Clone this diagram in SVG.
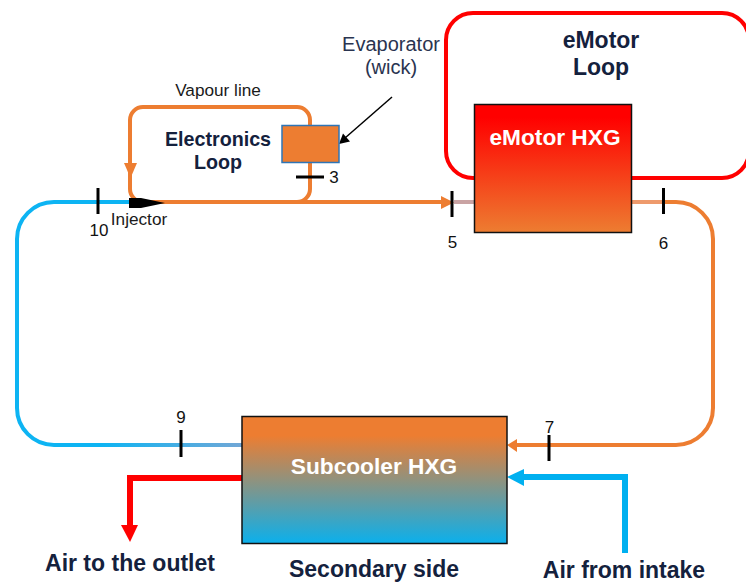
<svg xmlns="http://www.w3.org/2000/svg" width="746" height="583" viewBox="0 0 746 583">
<style>
text{font-family:"Liberation Sans",Arial,sans-serif}
.l{font-size:17.2px;fill:#1a1a1a}
.e{font-size:20px;fill:#2a3450}
.n{font-size:17px;fill:#111}
.b{font-size:23px;font-weight:bold;fill:#14213d}
.c{font-size:19.700px;font-weight:bold;fill:#14213d}
.w{font-size:22.700px;font-weight:bold;fill:#fff}
.t{stroke:#000;stroke-width:3;fill:none}
.p{fill:none;stroke-width:4}
.o{stroke:#ed7d31}
</style>
<defs>
<linearGradient id="gm" x1="0" y1="0" x2="0" y2="1"><stop offset="0.1" stop-color="#ff0000"/><stop offset="1" stop-color="#ed7d31"/></linearGradient>
<linearGradient id="gs" x1="0" y1="0" x2="0" y2="1"><stop offset="0.15" stop-color="#ed7d31"/><stop offset="1" stop-color="#0bb0ec"/></linearGradient>
<linearGradient id="gl" gradientUnits="userSpaceOnUse" x1="100" y1="0" x2="242" y2="0"><stop offset="0" stop-color="#0db4f3"/><stop offset="1" stop-color="#72a7d6"/></linearGradient>
</defs>
<g id="connectors">
<path class="p" d="M446 40a27 27 0 0 1 27-27H722a27 27 0 0 1 27 27V151a27 27 0 0 1-27 27H473a27 27 0 0 1-27-27Z" stroke="#ff0000"/>
<path class="p" stroke="#0db4f3" d="M130 202H54a37 37 0 0 0-37 37V408a37 37 0 0 0 37 37H100"/>
<path class="p" stroke="url(#gl)" d="M100 445H242"/>
<path class="p o" d="M150 202H143a13 13 0 0 1-13-13V120a13 13 0 0 1 13-13H297a13 13 0 0 1 13 13V189a13 13 0 0 1-13 13H150"/>
<path class="p o" d="M297 202H443"/>
<path fill="#ed7d31" d="M441 196L454 202.500L441 209Z"/>
<path fill="#ed7d31" d="M124 163H137L130.500 178Z"/>
<path class="p" stroke="#c9a3a3" d="M454 202H474"/>
<path class="p" stroke="#ee9a6c" d="M632 202H664"/>
<path class="p o" d="M664 202H676a37 37 0 0 1 37 37V408a37 37 0 0 1-37 37H616"/>
<path class="p" stroke="#ed7d31" d="M616 445H516"/>
<path fill="#ed7d31" d="M517 439L507 445L517 452Z"/>
<path fill="none" stroke="#ff0000" stroke-width="6" d="M242 478H130V526"/>
<path fill="#ff0000" d="M121 525H138L130 542Z"/>
<path fill="none" stroke="#00b0f0" stroke-width="6" d="M625 553V477H522"/>
<path fill="#00b0f0" d="M524 469V486L507 477Z"/>
<path fill="#000" d="M129 198H141L165 203L141 208H129Z"/>
<path fill="none" stroke="#000" stroke-width="1.500" d="M392 97L345 138"/>
<path fill="#000" d="M339 144L343 133.500L350 141.500Z"/>
</g>
<g id="tick-10"><path class="t" d="M98 188V214"/><text class="n" x="99" y="236" text-anchor="middle">10</text></g>
<g id="tick-3"><path class="t" d="M296 177H324"/><text class="n" x="334" y="183" text-anchor="middle">3</text></g>
<g id="tick-5"><path class="t" d="M452 191V217"/><text class="n" x="452.500" y="248" text-anchor="middle">5</text></g>
<g id="tick-6"><path class="t" d="M663.500 188V214"/><text class="n" x="663.500" y="249" text-anchor="middle">6</text></g>
<g id="tick-9"><path class="t" d="M181 430V457"/><text class="n" x="181" y="423" text-anchor="middle">9</text></g>
<g id="tick-7"><path class="t" d="M549 435V461"/><text class="n" x="549.500" y="433" text-anchor="middle">7</text></g>
<g id="injector"><text class="l" x="139" y="225" text-anchor="middle">Injector</text></g>
<g id="vapour-line"><text class="l" x="218" y="96" text-anchor="middle">Vapour line</text></g>
<g id="electronics-loop"><text class="c" x="218" y="146" text-anchor="middle">Electronics</text><text class="c" x="218" y="169" text-anchor="middle">Loop</text></g>
<g id="evaporator"><rect x="282" y="125.500" width="57" height="37" fill="#ed7d31" stroke="#2e75b6" stroke-width="1.500"/><text class="e" x="391" y="51" text-anchor="middle">Evaporator</text><text class="e" x="391" y="74" text-anchor="middle">(wick)</text></g>
<g id="emotor-loop"><text class="b" x="601" y="48" text-anchor="middle">eMotor</text><text class="b" x="601" y="75" text-anchor="middle">Loop</text></g>
<g id="emotor-hxg"><rect x="474.500" y="104.500" width="157" height="128" fill="url(#gm)" stroke="#111" stroke-width="1.500"/><text class="w" x="555" y="145" text-anchor="middle">eMotor HXG</text></g>
<g id="subcooler-hxg"><rect x="242" y="416.500" width="265" height="127" fill="url(#gs)" stroke="#111" stroke-width="1.500"/><text class="w" x="374" y="474" text-anchor="middle">Subcooler HXG</text></g>
<g id="air-outlet"><text class="b" x="130" y="571" text-anchor="middle">Air to the outlet</text></g>
<g id="secondary-side"><text class="b" x="374" y="577" text-anchor="middle">Secondary side</text></g>
<g id="air-intake"><text class="b" x="624" y="578" text-anchor="middle">Air from intake</text></g>
</svg>
